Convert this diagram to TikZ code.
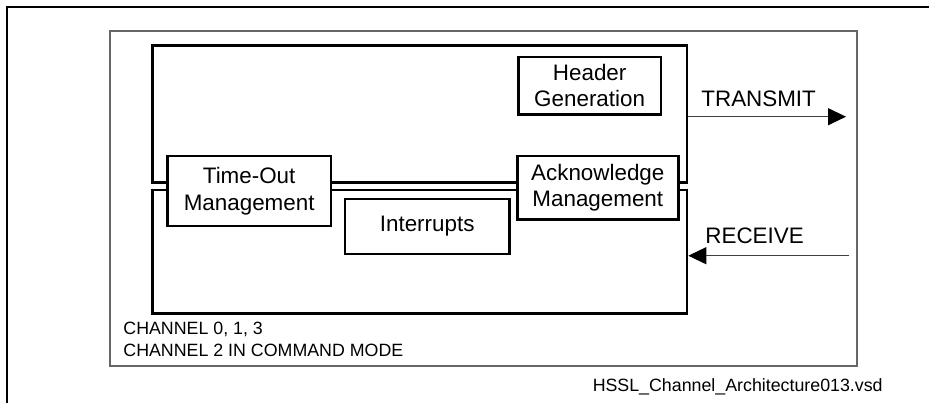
\documentclass[tikz,border=0pt]{standalone}
\usepackage{fontspec}
\setmainfont{Liberation Sans}
\usepackage{tikz}
\usetikzlibrary{positioning,arrows.meta}
\tikzset{
  chbox/.style={draw, line width=1.3pt, minimum width=267.15pt, minimum height=#1, inner sep=0pt},
  fbox/.style={draw, line width=1.2pt, fill=white, align=center, inner sep=0pt,
    font=\fontsize{11.2}{13.3}\selectfont},
  lbl/.style={inner sep=0pt, font=\fontsize{11.2}{13.3}\selectfont},
  note/.style={inner sep=0pt, align=left, font=\fontsize{8.9}{11}\selectfont},
  arr/.style={-{Triangle[length=9pt, width=8.5pt, color=black]}, line width=0.6pt, black!75},
}

\begin{document}
\begin{tikzpicture}[x=0.5pt, y=-0.5pt]
  \useasboundingbox (0,0) rectangle (929,403);
  % page frame and drawing frame
  \draw[line width=0.9pt] (929,7) -- (7,7) -- (7,403);
  \node[draw, black!60, line width=0.6pt, minimum width=373.5pt, minimum height=167.5pt, inner sep=0pt] (frame) at (483.5,198.5) {};

  % channel halves
  \node[chbox=68.5pt] (tx) at (419.85,114.2) {};
  \node[chbox=61.65pt] (rx) at (419.85,251.65) {};

  % function blocks
  \node[fbox, minimum width=71.35pt, minimum height=28.8pt] (header) at (589.65,85.5) {Header\\Generation};
  \node[fbox, minimum width=81.85pt, minimum height=35pt] (timeout) at (249.15,191) {Time-Out\\Management};
  \node[fbox, minimum width=82.15pt, minimum height=27.5pt] (intr) at (427.15,226.5) {Interrupts};
  \node[fbox, minimum width=80.5pt, minimum height=31.65pt] (ack) at (597.8,187.65) {Acknowledge\\Management};

  % transmit / receive
  \coordinate (txend) at (846,116.7);
  \coordinate (rxstart) at (849,255.7);
  \draw[arr] (tx.east |- txend) -- (txend);
  \draw[arr] (rxstart) -- (rx.east |- rxstart);
  \node[lbl, anchor=base west] (txlbl) at (701,106) {TRANSMIT};
  \node[lbl, anchor=base west] (rxlbl) at (705,243.7) {RECEIVE};

  % notes
  \node[note, anchor=north west] (mode) at (123,321.5) {CHANNEL 0, 1, 3\\CHANNEL 2 IN COMMAND MODE};
  \node[note, anchor=base] (file) at (737.7,391.4) {HSSL\_Channel\_Architecture013.vsd};
\end{tikzpicture}
\end{document}
